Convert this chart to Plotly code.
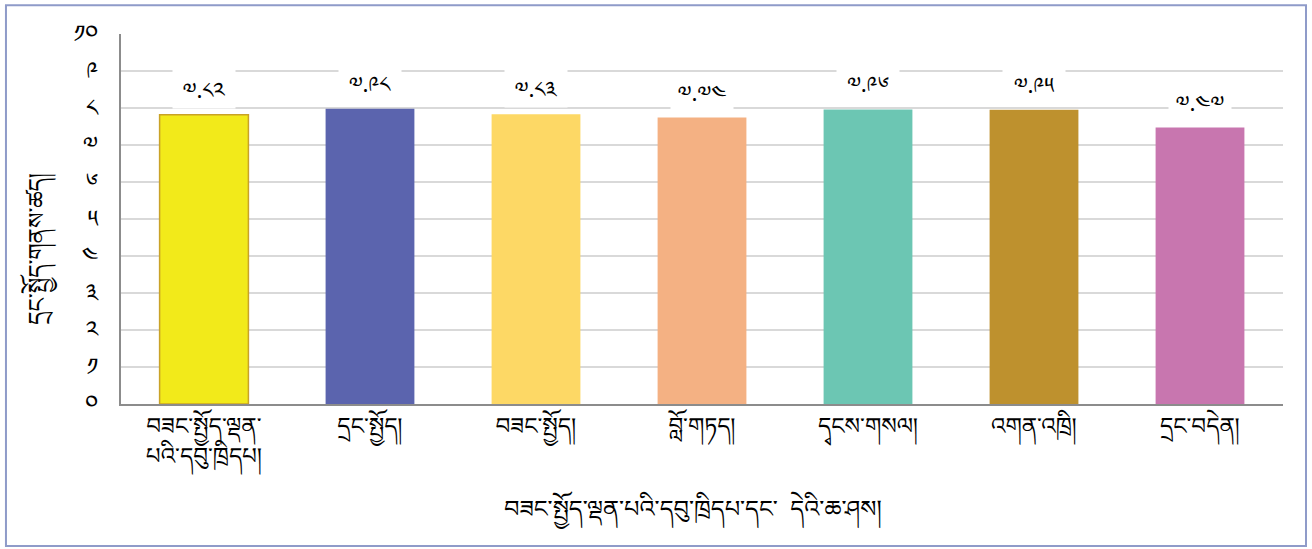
import plotly.graph_objects as go

categories = [
    "བཟང་སྤྱོད་ལྡན་<br>པའི་དབུ་ཁྲིདཔ།",
    "དྲང་སྤྱོད།",
    "བཟང་སྤྱོད།",
    "བློ་གཏད།",
    "དྭངས་གསལ།",
    "འགན་འཁྲི།",
    "དྲང་བདེན།",
]
values = [7.82, 7.98, 7.83, 7.74, 7.96, 7.95, 7.47]
value_labels = ["༧.༨༢", "༧.༩༨", "༧.༨༣", "༧.༧༤", "༧.༩༦", "༧.༩༥", "༧.༤༧"]
colors = ["#F2EA1A", "#5B64AE", "#FDD865", "#F4B183", "#6CC6B3", "#BE912E", "#C876AF"]
outline = ["#C9A227", "rgba(0,0,0,0)", "rgba(0,0,0,0)", "rgba(0,0,0,0)",
           "rgba(0,0,0,0)", "rgba(0,0,0,0)", "rgba(0,0,0,0)"]
y_tickvals = [0, 1, 2, 3, 4, 5, 6, 7, 8, 9, 10]
y_ticktext = ["༠", "༡", "༢", "༣", "༤", "༥", "༦", "༧", "༨", "༩", "༡༠"]
x_title = "བཟང་སྤྱོད་ལྡན་པའི་དབུ་ཁྲིདཔ་དང་  དེའི་ཆ་ཤས།"
y_title = "དྲང་སྤྱོད་གནས་ཚད།"

FONT = "Noto Sans Tibetan, Noto Serif Tibetan, Jomolhari, Tibetan Machine Uni, DejaVu Sans, sans-serif"

fig = go.Figure()
fig.add_trace(go.Bar(
    x=categories, y=values,
    marker=dict(color=colors, line=dict(color=outline, width=1.5)),
    width=0.535,
    hoverinfo="skip",
))

for c, v, t in zip(categories, values, value_labels):
    # white label box that masks the gridlines
    fig.add_annotation(
        x=c, y=v, text=" ", showarrow=False,
        yanchor="bottom", yshift=6,
        width=54, height=30,
        bgcolor="white", borderpad=4,
        font=dict(family=FONT, size=22, color="#000000"),
    )
    # value text
    fig.add_annotation(
        x=c, y=v, text=t, showarrow=False,
        yanchor="bottom", yshift=1,
        width=54, height=30,
        font=dict(family=FONT, size=22, color="#000000"),
    )

# axis titles as annotations for precise placement
fig.add_annotation(
    xref="paper", yref="paper", x=-0.067, y=0.42, text=y_title,
    textangle=-90, showarrow=False, xanchor="center", yanchor="middle",
    font=dict(family=FONT, size=23, color="#000000"),
)
fig.add_annotation(
    xref="paper", yref="paper", x=0.492, y=-0.30, text=x_title,
    showarrow=False, xanchor="center", yanchor="middle",
    font=dict(family=FONT, size=24, color="#000000"),
)

fig.add_shape(
    type="rect", xref="paper", yref="paper",
    x0=-0.0990, x1=1.0198, y0=-0.384, y1=1.078,
    line=dict(color="#8F9BC9", width=2), fillcolor="rgba(0,0,0,0)",
    layer="below",
)

fig.update_layout(
    width=1312, height=549,
    margin=dict(l=121, r=29, t=34, b=145, autoexpand=False),
    paper_bgcolor="white", plot_bgcolor="white",
    showlegend=False,
    font=dict(family=FONT, color="#111111"),
    xaxis=dict(
        showline=True, linecolor="#8C8C8C", linewidth=2,
        tickfont=dict(family=FONT, size=23, color="#000000"),
        ticks="", showgrid=False, automargin=False,
    ),
    yaxis=dict(
        range=[0, 10], tickvals=y_tickvals, ticktext=y_ticktext,
        showline=True, linecolor="#8C8C8C", linewidth=2,
        showgrid=True, gridcolor="#D9D9D9", gridwidth=2,
        tickfont=dict(family=FONT, size=24, color="#000000"),
        ticks="", ticklabelstandoff=16, automargin=False,
        zeroline=False,
    ),
)

fig.write_html(
    "out.html",
    config={"displayModeBar": False},
    post_script="document.body.style.margin='0';document.body.style.overflow='hidden';",
)
